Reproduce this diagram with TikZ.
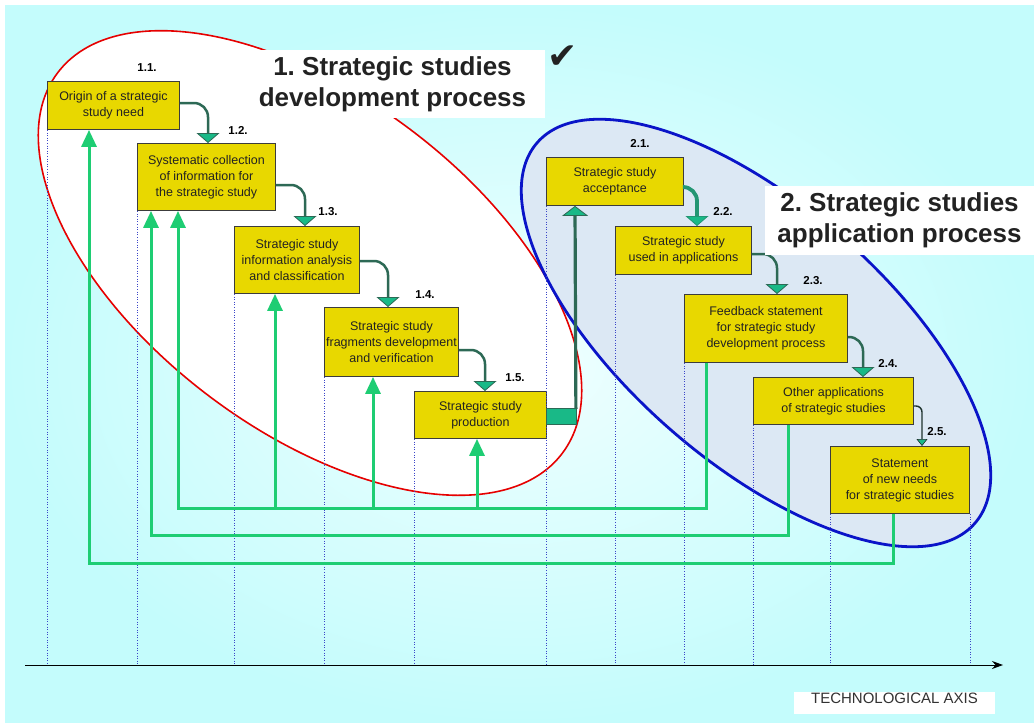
\documentclass[tikz,border=0pt]{standalone}
\usepackage{fontspec}
\setmainfont{Liberation Sans}
\newfontfamily\checkfont{DejaVu Sans}
\usetikzlibrary{arrows.meta,calc,positioning}
\frenchspacing
\definecolor{boxyellow}{RGB}{232,216,0}
\definecolor{boxline}{RGB}{60,60,60}
\definecolor{linkdark}{RGB}{45,105,85}
\definecolor{linkfill}{RGB}{25,185,135}
\definecolor{linkmid}{RGB}{35,150,115}
\definecolor{linkthin}{RGB}{30,50,45}
\definecolor{backgreen}{RGB}{30,205,115}
\definecolor{guideblue}{RGB}{60,70,200}
\definecolor{skyin}{RGB}{240,255,255}
\definecolor{skyout}{RGB}{196,252,252}
\definecolor{loopred}{RGB}{230,0,0}
\definecolor{loopblue}{RGB}{10,20,200}
\definecolor{loopfill}{RGB}{220,232,244}
\definecolor{inktext}{RGB}{34,34,34}
\definecolor{axistext}{RGB}{50,50,50}
\tikzset{
  stage/.style={draw=boxline, line width=0.9pt, fill=boxyellow, anchor=north west,
    align=center, inner sep=1pt, font=\fontsize{12.5}{16}\selectfont, text=inktext},
  stepno/.style={font=\bfseries\fontsize{11.5}{13}\selectfont},
  steplink/.style={draw=linkdark, line width=2.5pt, rounded corners=14pt,
    -{Triangle[width=23pt,length=10pt,fill=linkfill,line width=0.8pt]}},
  feedin/.style={draw=backgreen, line width=3pt, -{Triangle[width=15pt,length=17pt]}},
  guide/.style={draw=guideblue, dotted, line width=0.6pt},
  headline/.style={fill=white, align=center, font=\bfseries\fontsize{26}{31}\selectfont, text=inktext},
}
\begin{document}
\begin{tikzpicture}[x=1pt, y=-1pt]
  \useasboundingbox (0,0) rectangle (1034,723);
  \fill[white] (0,0) rectangle (1034,723);
  \shade[inner color=skyin, outer color=skyout] (5,5) rectangle (1034,723);

  % the two processes
  \filldraw[fill=white, draw=loopred, line width=1.6pt, rotate around={-37:(310,263)}]
    (310,263) ellipse [x radius=316pt, y radius=167pt];
  \filldraw[fill=loopfill, draw=loopblue, line width=2.8pt, rotate around={-41:(756,333)}]
    (756,333) ellipse [x radius=290pt, y radius=129pt];

  % stages
  \node[stage, minimum width=132pt, minimum height=48pt] (s11) at (47,81) {Origin of a strategic\\study need};
  \node[stage, minimum width=138pt, minimum height=67pt] (s12) at (137,143) {Systematic collection\\of information for\\the strategic study};
  \node[stage, minimum width=125pt, minimum height=67pt] (s13) at (234,226) {Strategic study\\information analysis\\and classification};
  \node[stage, minimum width=134pt, minimum height=69pt] (s14) at (324,307) {Strategic study\\fragments development\\and verification};
  \node[stage, minimum width=132pt, minimum height=47pt] (s15) at (414,391) {Strategic study\\production};
  \node[stage, minimum width=137pt, minimum height=48pt] (s21) at (546,157) {Strategic study\\acceptance};
  \node[stage, minimum width=136pt, minimum height=48pt] (s22) at (615,226) {Strategic study\\used in applications};
  \node[stage, minimum width=163pt, minimum height=68pt] (s23) at (684,294) {Feedback statement\\for strategic study\\development process};
  \node[stage, minimum width=160pt, minimum height=47pt] (s24) at (753,377) {Other applications\\of strategic studies};
  \node[stage, minimum width=139pt, minimum height=67pt] (s25) at (830,446) {Statement\\of new needs\\for strategic studies};

  % technological axis
  \coordinate (axisL) at (25,665);
  \coordinate (axisR) at (1003,665);
  \foreach \n in {s11,s12,s13,s14,s15,s21,s22,s23,s24,s25}
    \draw[guide] (\n.south west) -- (\n.south west |- axisL);
  \draw[guide] (s25.south east) -- (s25.south east |- axisL);
  \draw[line width=0.9pt, -{Stealth[length=11pt,width=8pt]}] (axisL) -- (axisR);
  \node[fill=white, anchor=north, minimum width=201pt, inner ysep=0pt, text height=11pt,
    text depth=11pt, font=\fontsize{15}{15}\selectfont, text=axistext] (axisname) at (894.5,692) {TECHNOLOGICAL AXIS};

  % feedback lines
  \coordinate (bus1) at (0,508);
  \coordinate (bus2) at (0,535);
  \coordinate (bus3) at (0,563);
  \coordinate (out23) at ($(s23.south west)+(22,0)$);
  \coordinate (out24) at ($(s24.south west)+(35,0)$);
  \coordinate (out25) at ($(s25.south west)+(63,0)$);
  \coordinate (in11) at ($(s11.south west)+(42,0)$);
  \coordinate (in12a) at ($(s12.south west)+(14,0)$);
  \coordinate (in12b) at ($(s12.south west)+(41,0)$);
  \coordinate (in13) at ($(s13.south west)+(41,0)$);
  \coordinate (in14) at ($(s14.south west)+(49,0)$);
  \coordinate (in15) at ($(s15.south west)+(63,0)$);
  \draw[feedin] (out23) -- (out23 |- bus1) -- (in12b |- bus1) -- (in12b);
  \draw[feedin] (in13 |- bus1) -- (in13);
  \draw[feedin] (in14 |- bus1) -- (in14);
  \draw[feedin] (in15 |- bus1) -- (in15);
  \draw[feedin] (out24) -- (out24 |- bus2) -- (in12a |- bus2) -- (in12a);
  \draw[feedin] (out25) -- (out25 |- bus3) -- (in11 |- bus3) -- (in11);

  % step links
  \draw[steplink] ($(s11.north east)+(0,22)$) -| ($(s12.north west)+(71,0)$);
  \draw[steplink] ($(s12.north east)+(0,42)$) -| ($(s13.north west)+(71,0)$);
  \draw[steplink] ($(s13.north east)+(0,35)$) -| ($(s14.north west)+(64,0)$);
  \draw[steplink] ($(s14.north east)+(0,43)$) -| ($(s15.north west)+(71,0)$);
  \filldraw[fill=linkfill, draw=linkdark, line width=0.9pt]
    ($(s15.north east)+(0,17)$) rectangle ($(s15.north east)+(30,33)$);
  \draw[steplink, rounded corners=0pt, line width=3.2pt,
    -{Triangle[width=26pt,length=10pt,fill=linkfill,line width=0.8pt]}]
    ($(s15.north east)+(29,18)$) -- ($(s21.south west)+(29,0)$);
  \draw[steplink, line width=3.8pt, draw=linkmid] ($(s21.north east)+(0,30)$) -| ($(s22.north west)+(82,0)$);
  \draw[steplink] ($(s22.north east)+(0,28)$) -| ($(s23.north west)+(93,0)$);
  \draw[steplink] ($(s23.north east)+(0,43)$) -| ($(s24.north west)+(110,0)$);
  \draw[steplink, line width=1.4pt, draw=linkthin, rounded corners=6pt,
    -{Triangle[width=11pt,length=7pt,fill=linkfill,line width=0.6pt]}]
    ($(s24.north east)+(0,29)$) -| ($(s25.north west)+(92,0)$);

  % step numbers
  \node[stepno] (n11) at (147,68) {1.1.};
  \node[stepno] (n12) at (238,130) {1.2.};
  \node[stepno] (n13) at (328,212) {1.3.};
  \node[stepno] (n14) at (425,295) {1.4.};
  \node[stepno] (n15) at (515,378) {1.5.};
  \node[stepno] (n21) at (640,143) {2.1.};
  \node[stepno] (n22) at (723,211) {2.2.};
  \node[stepno] (n23) at (813,281) {2.3.};
  \node[stepno] (n24) at (888,363) {2.4.};
  \node[stepno] (n25) at (937,432) {2.5.};

  % titles
  \node[headline, minimum width=305pt, minimum height=68pt] (title1) at (392.5,84) {1. Strategic studies\\development process};
  \node[headline, minimum width=269pt, minimum height=69pt] (title2) at (899.5,220.5) {2. Strategic studies\\application process};
  \node[font=\checkfont\fontsize{36}{36}\selectfont, text=inktext] (tick) at (563,57) {✔};
\end{tikzpicture}
\end{document}
